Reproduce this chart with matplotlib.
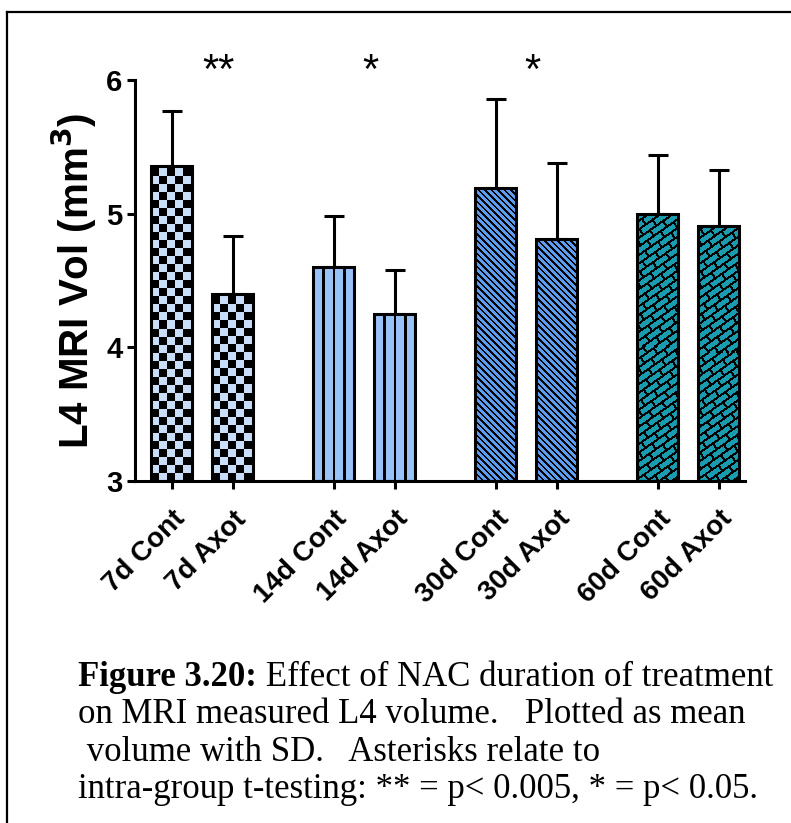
import numpy as np
import matplotlib.pyplot as plt
from matplotlib.lines import Line2D

plt.rcParams["font.family"] = ["Liberation Sans", "DejaVu Sans"]

# --- data -----------------------------------------------------------------------------------
labels = ["7d Cont", "7d Axot", "14d Cont", "14d Axot", "30d Cont", "30d Axot", "60d Cont", "60d Axot"]
means = [5.36, 4.40, 4.60, 4.25, 5.19, 4.81, 5.00, 4.91]
sds = [0.41, 0.43, 0.38, 0.33, 0.67, 0.57, 0.44, 0.42]
positions = [0, 1, 2.65, 3.65, 5.3, 6.3, 7.95, 8.95]
groups = [0, 0, 1, 1, 2, 2, 3, 3]
stars = ["**", "*", "*"]
star_x = [0.77, 3.25, 5.9]
caption_bold = "Figure 3.20:"
caption_lines = [" Effect of NAC duration of treatment",
                 "on MRI measured L4 volume.   Plotted as mean",
                 " volume with SD.   Asterisks relate to",
                 "intra-group t-testing: ** = p< 0.005, * = p< 0.05."]

FILLS = ["#c8ddf7", "#99c2f7", "#5c9df0", "#1a9cb0"]
BAR_W = 0.67
LW = 2.2
CAP_FS = 25


def texture(kind, w, h, fill):
    """pixel texture for a bar of w x h pixels (origin lower-left)"""
    yy, xx = np.indices((h, w)).astype(float)
    if kind == 0:      # checkerboard
        c = 8
        dark = ((xx // c + yy // c) % 2) == 0
    elif kind == 1:    # vertical lines
        dark = ((xx - 9) % 10.5) < 2.2
    elif kind == 2:    # back-diagonal lines
        dark = ((xx + yy) % 6.5) < 2.4
    else:              # diagonal bricks
        th = np.deg2rad(35)
        u = xx * np.cos(th) + yy * np.sin(th)
        v = -xx * np.sin(th) + yy * np.cos(th)
        row = np.floor(v / 7)
        dark = ((v % 7) < 2.2) | (((u + (row % 2) * 8) % 16) < 2.2)
    rgb = np.array(plt.matplotlib.colors.to_rgb(fill))
    img = np.ones((h, w, 3)) * rgb
    img[dark] = 0.0
    return img


fig = plt.figure(figsize=(7.91, 8.23), dpi=100)
ax = fig.add_axes([0.1707, 0.4155, 0.7711, 0.4873])
ax.set_xlim(-0.6, 9.38)
ax.set_ylim(3, 6)

# error bars (upward only), behind bars
ax.errorbar(positions, means, yerr=[np.zeros(len(sds)), sds], fmt="none", ecolor="black",
            elinewidth=LW, capsize=7.2, capthick=LW, zorder=1)

fig.canvas.draw()
for x, m, g in zip(positions, means, groups):
    bar = ax.bar(x, m - 3, bottom=3, width=BAR_W, facecolor="none", edgecolor="black",
                 linewidth=LW, zorder=3)[0]
    (x0, y0) = ax.transData.transform((x - BAR_W / 2, 3))
    (x1, y1) = ax.transData.transform((x + BAR_W / 2, m))
    w, h = int(round(x1 - x0)), int(round(y1 - y0))
    im = ax.imshow(texture(g, w, h, FILLS[g]), extent=(x - BAR_W / 2, x + BAR_W / 2, 3, m),
                   origin="lower", interpolation="nearest", aspect="auto", zorder=2)
    im.set_clip_path(bar)
ax.set_xlim(-0.6, 9.38)
ax.set_ylim(3, 6)

for sx, s in zip(star_x, stars):
    ax.text(sx, 5.91, s, ha="center", va="bottom", fontsize=30, clip_on=False)

for side in ("top", "right"):
    ax.spines[side].set_visible(False)
for side in ("left", "bottom"):
    ax.spines[side].set_linewidth(LW)
ax.set_yticks([3, 4, 5, 6])
ax.set_yticklabels(["3", "4", "5", "6"], fontsize=21, fontweight="bold")
ax.set_xticks(positions)
ax.set_xticklabels(labels, fontsize=20, fontweight="bold", rotation=45, ha="right",
                   rotation_mode="anchor")
ax.tick_params(axis="both", length=6, width=LW, color="black", pad=3)
ax.tick_params(axis="x", pad=12)
ax.set_ylabel("L4 MRI Vol (mm$^\\mathbf{3}$)", fontsize=29, fontweight="bold", labelpad=5)

# caption
y0 = 0.157
step = 0.0456
t = fig.text(0.099, y0, caption_bold, fontsize=CAP_FS, fontweight="bold",
             family="Liberation Serif", va="bottom")
fig.canvas.draw()
fig.add_artist(plt.matplotlib.text.Annotation(caption_lines[0], xy=(1, 0), xycoords=t,
                                              va="bottom", ha="left", fontsize=CAP_FS,
                                              family="Liberation Serif"))
for i, line in enumerate(caption_lines[1:]):
    fig.text(0.099, y0 - (i + 1) * step, line, fontsize=CAP_FS, family="Liberation Serif",
             va="bottom")

# frame (left and top edges visible)
fig.add_artist(Line2D([0.009, 0.009], [0, 0.986], color="black", lw=1.6))
fig.add_artist(Line2D([0.009, 1], [0.986, 0.986], color="black", lw=1.6))

fig.savefig("out.png", dpi=100)
